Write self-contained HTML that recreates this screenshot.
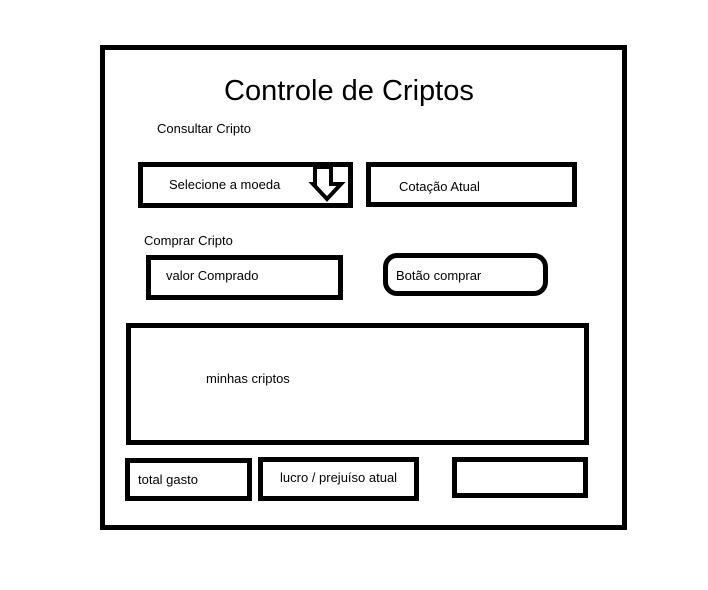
<!DOCTYPE html>
<html><head><meta charset="utf-8"><style>
body{margin:0;width:708px;height:590px;background:#fff;position:relative;overflow:hidden;font-family:"Liberation Sans",sans-serif;}
.b{position:absolute;border:5px solid #000;box-sizing:border-box;}
.t{position:absolute;font-size:13px;color:#000;white-space:nowrap;}
</style></head><body>
<div class="b" style="left:100px;top:45px;width:527px;height:485px;"></div>
<div class="t" style="left:224px;top:75px;font-size:29px;">Controle de Criptos</div>
<div class="t" style="left:157px;top:121px;">Consultar Cripto</div>
<div class="b" style="left:138px;top:162px;width:215px;height:46px;"></div>
<div class="t" style="left:169px;top:177px;">Selecione a moeda</div>
<svg style="position:absolute;left:0;top:0" width="708" height="590"><polygon points="315,167 331,167 331,184 341,184 327,199 313,184 315,184" fill="#fff" stroke="#000" stroke-width="4" stroke-linejoin="miter"/></svg>
<div class="b" style="left:366px;top:162px;width:211px;height:45px;"></div>
<div class="t" style="left:399px;top:179px;">Cotação Atual</div>
<div class="t" style="left:144px;top:233px;">Comprar Cripto</div>
<div class="b" style="left:146px;top:255px;width:197px;height:45px;"></div>
<div class="t" style="left:166px;top:268px;">valor Comprado</div>
<div class="b" style="left:383px;top:253px;width:165px;height:43px;border-radius:14px;"></div>
<div class="t" style="left:396px;top:268px;">Botão comprar</div>
<div class="b" style="left:126px;top:323px;width:463px;height:122px;"></div>
<div class="t" style="left:206px;top:371px;">minhas criptos</div>
<div class="b" style="left:125px;top:458px;width:127px;height:43px;"></div>
<div class="t" style="left:138px;top:472px;">total gasto</div>
<div class="b" style="left:258px;top:457px;width:161px;height:44px;"></div>
<div class="t" style="left:280px;top:470px;">lucro / prejuíso atual</div>
<div class="b" style="left:452px;top:457px;width:136px;height:41px;"></div>
</body></html>
